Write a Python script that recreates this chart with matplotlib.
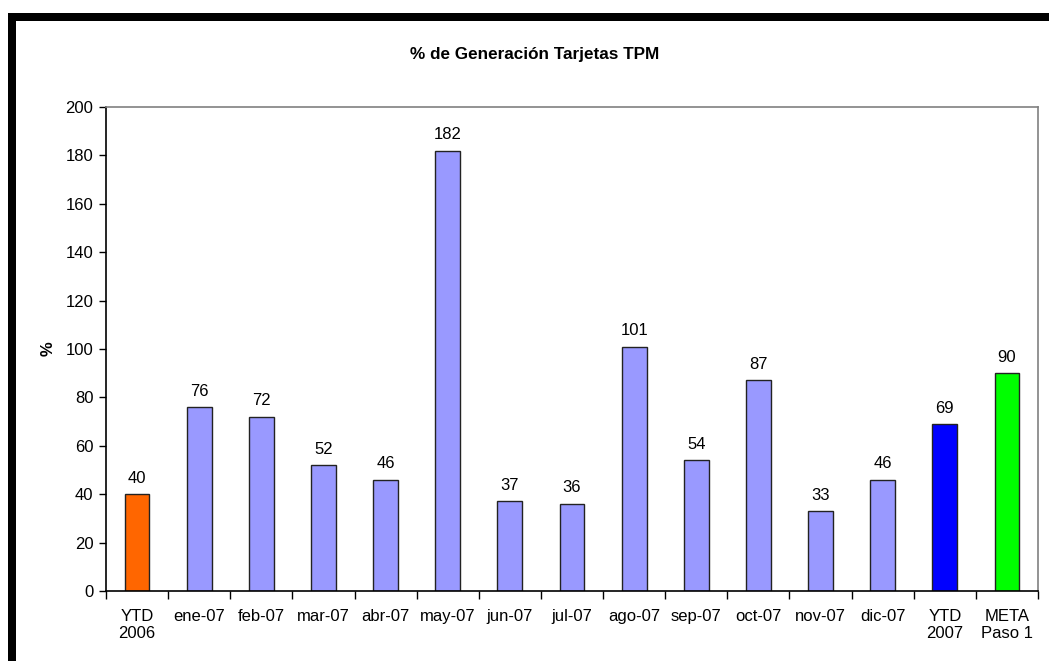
import matplotlib
matplotlib.use("Agg")
import matplotlib.pyplot as plt
from matplotlib.patches import Rectangle

categories = ["YTD\n2006", "ene-07", "feb-07", "mar-07", "abr-07", "may-07", "jun-07",
              "jul-07", "ago-07", "sep-07", "oct-07", "nov-07", "dic-07", "YTD\n2007", "META\nPaso 1"]
values = [40, 76, 72, 52, 46, 182, 37, 36, 101, 54, 87, 33, 46, 69, 90]
colors = ["#FF6600"] + ["#9999FF"] * 12 + ["#0000FF", "#00FF00"]
yticks = [0, 20, 40, 60, 80, 100, 120, 140, 160, 180, 200]

plt.rcParams["font.family"] = ["Liberation Sans", "DejaVu Sans"]

W, H = 1049, 661
fig = plt.figure(figsize=(W / 100, H / 100), dpi=100)

# Thick black frame on the top and left edges of the chart area
fig.add_artist(Rectangle((8 / W, 0), 8 / W, 1 - 13 / H, transform=fig.transFigure,
                         facecolor="black", edgecolor="none"))
fig.add_artist(Rectangle((8 / W, 1 - 21 / H), 1 - 8 / W, 8 / H, transform=fig.transFigure,
                         facecolor="black", edgecolor="none"))

ax = fig.add_axes([106 / W, 70 / H, 932 / W, 484 / H])
x = list(range(len(categories)))
ax.bar(x, values, width=0.4, color=colors, edgecolor="#222222", linewidth=1.0, zorder=2)

for xi, v in zip(x, values):
    ax.text(xi, v + 3.5, f"{v}", ha="center", va="bottom", fontsize=12)

ax.set_xlim(-0.5, len(categories) - 0.5)
ax.set_ylim(0, 200)
ax.set_yticks(yticks)
ax.set_yticklabels([str(t) for t in yticks], fontsize=12)

ax.set_xticks(x)
ax.set_xticklabels(categories, fontsize=12, linespacing=1.15, va="top")
ax.tick_params(axis="x", length=0, pad=13)
ax.set_xticks([i - 0.5 for i in range(len(categories) + 1)], minor=True)
ax.tick_params(axis="x", which="minor", length=6, width=1, direction="out", color="black")
ax.tick_params(axis="y", length=5, width=1, direction="out", pad=4)

ax.spines["left"].set_color("black")
ax.spines["bottom"].set_color("black")
ax.spines["top"].set_color("#808080")
ax.spines["right"].set_color("#808080")
for s in ax.spines.values():
    s.set_linewidth(1.2)

ax.set_ylabel("%", fontsize=12, fontweight="bold", labelpad=7)
fig.text(535 / W, 1 - 55 / H, "% de Generación Tarjetas TPM", ha="center", va="center",
         fontsize=12.3, fontweight="bold")

fig.savefig("out.png", dpi=100)
